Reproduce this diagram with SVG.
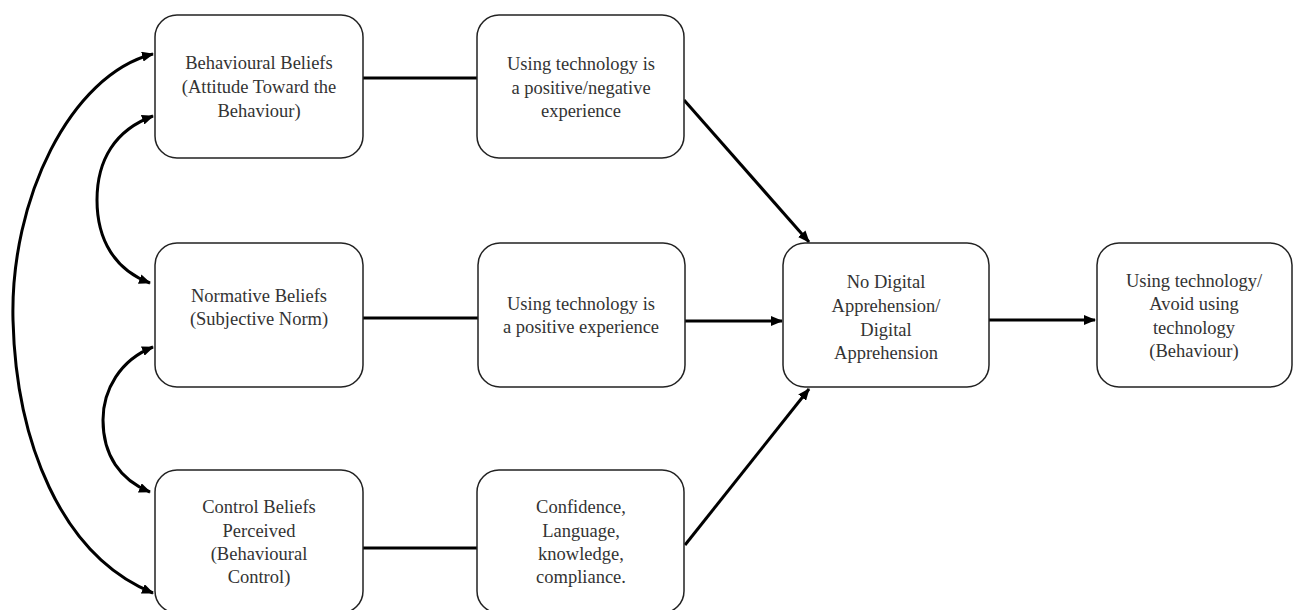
<svg xmlns="http://www.w3.org/2000/svg" width="1295" height="610" viewBox="0 0 1295 610">
<style>
.box{fill:#fff;stroke:#222;stroke-width:1.5}
.t{font-family:"Liberation Serif","Times New Roman",serif;font-size:18.5px;fill:#333;text-anchor:middle}
.c{fill:none;stroke:#000;stroke-width:3}
.a{marker-end:url(#ah)}
.b{marker-start:url(#ah);marker-end:url(#ah)}
</style>
<defs>
<marker id="ah" viewBox="0 0 12 10" refX="11" refY="5" markerWidth="12" markerHeight="10" markerUnits="userSpaceOnUse" orient="auto-start-reverse">
<path d="M0,0 L12,5 L0,10 z" fill="#000"/>
</marker>
</defs>
<rect width="1295" height="610" fill="#fff"/>
<g id="connectors">
<path class="c b" d="M153,54 C70,75 10,200 13,320 C16,440 60,555 153,593"/>
<path class="c b" d="M153,116 C115,130 97,160 97,200 C97,240 115,270 150,283"/>
<path class="c b" d="M153,347 C120,360 103,390 103,420 C103,455 120,480 150,492"/>
<line class="c" x1="363" y1="78" x2="477" y2="78"/>
<line class="c" x1="363" y1="318" x2="478" y2="318"/>
<line class="c" x1="363" y1="548" x2="477" y2="548"/>
<line class="c a" x1="684" y1="100" x2="809" y2="242"/>
<line class="c a" x1="685" y1="321" x2="782" y2="321"/>
<line class="c a" x1="685" y1="545" x2="809" y2="389"/>
<line class="c a" x1="989" y1="320" x2="1095" y2="320"/>
</g>
<g id="behavioural">
<rect class="box" x="155" y="15" width="208" height="143" rx="22"/>
<text class="t" x="259" y="69">Behavioural Beliefs</text>
<text class="t" x="259" y="93">(Attitude Toward the</text>
<text class="t" x="259" y="117">Behaviour)</text>
</g>
<g id="normative">
<rect class="box" x="155" y="243" width="208" height="144" rx="22"/>
<text class="t" x="259" y="302">Normative Beliefs</text>
<text class="t" x="259" y="325">(Subjective Norm)</text>
</g>
<g id="control">
<rect class="box" x="155" y="470" width="208" height="143" rx="22"/>
<text class="t" x="259" y="513">Control Beliefs</text>
<text class="t" x="259" y="537">Perceived</text>
<text class="t" x="259" y="560">(Behavioural</text>
<text class="t" x="259" y="583">Control)</text>
</g>
<g id="posneg">
<rect class="box" x="477" y="15" width="207" height="143" rx="22"/>
<text class="t" x="581" y="70">Using technology is</text>
<text class="t" x="581" y="93.5">a positive/negative</text>
<text class="t" x="581" y="117">experience</text>
</g>
<g id="positive">
<rect class="box" x="478" y="243" width="207" height="144" rx="22"/>
<text class="t" x="581" y="310">Using technology is</text>
<text class="t" x="581" y="333">a positive experience</text>
</g>
<g id="confidence">
<rect class="box" x="477" y="470" width="207" height="143" rx="22"/>
<text class="t" x="581" y="513">Confidence,</text>
<text class="t" x="581" y="537">Language,</text>
<text class="t" x="581" y="560">knowledge,</text>
<text class="t" x="581" y="583">compliance.</text>
</g>
<g id="apprehension">
<rect class="box" x="783" y="243" width="206" height="144" rx="22"/>
<text class="t" x="886" y="288">No Digital</text>
<text class="t" x="886" y="312">Apprehension/</text>
<text class="t" x="886" y="336">Digital</text>
<text class="t" x="886" y="359">Apprehension</text>
</g>
<g id="behaviour">
<rect class="box" x="1097" y="243" width="195" height="144" rx="22"/>
<text class="t" x="1194" y="287">Using technology/</text>
<text class="t" x="1194" y="310">Avoid using</text>
<text class="t" x="1194" y="334">technology</text>
<text class="t" x="1194" y="357">(Behaviour)</text>
</g>
</svg>
